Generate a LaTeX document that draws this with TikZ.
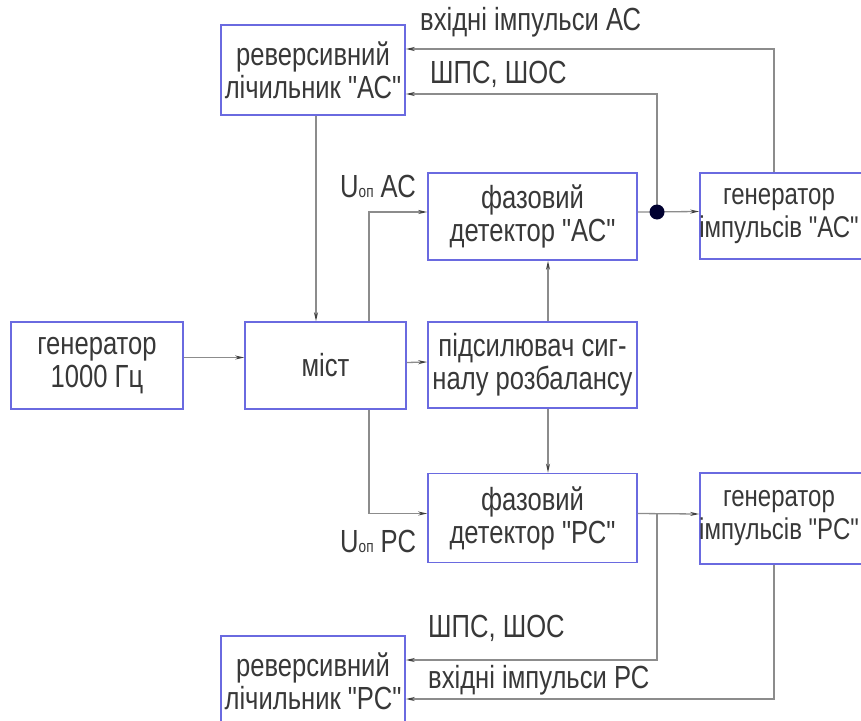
\documentclass[tikz,border=0pt]{standalone}
\usepackage{fontspec}
\setmainfont{Liberation Sans}[FakeStretch=0.8, Ligatures=TeXOff]
\usetikzlibrary{arrows.meta}
\definecolor{boxblue}{HTML}{6A6AE0}
\definecolor{txtgray}{HTML}{383838}
\definecolor{linegray}{HTML}{8C8C8C}
\definecolor{dotblue}{HTML}{000030}
\tikzset{
  box/.style={draw=boxblue, line width=1.6pt, align=center, inner sep=0pt,
    font=\fontsize{32}{33}\selectfont, text=txtgray},
  txt/.style={align=center, inner sep=0pt, font=\fontsize{30}{33}\selectfont, text=txtgray},
  lbl/.style={anchor=west, inner sep=0pt, font=\fontsize{32}{33}\selectfont, text=txtgray},
  arr/.style={draw=linegray, line width=1.3pt,
    -{Stealth[length=9pt,width=4pt,color=black!75]}},
  wire/.style={draw=linegray, line width=1.3pt}
}
\newcommand{\subop}{{\fontsize{17}{17}\selectfont оп}}
\begin{document}
\begin{tikzpicture}[x=1pt,y=-1pt]
\useasboundingbox (0,0) rectangle (861,720);
\clip (0,0) rectangle (861,720);
% boxes
\node[box, minimum width=184pt, minimum height=90pt] (revAC) at (313,70) {реверсивний\\лічильник "АС"};
\node[box, minimum width=172pt, minimum height=87pt] (gen1) at (97,365.5) {генератор\\1000 Гц};
\node[box, minimum width=161pt, minimum height=87pt] (most) at (325.5,365.5) {міст};
\node[box, minimum width=209pt, minimum height=86pt] (amp) at (532.5,365) {підсилювач сиг-\\налу розбалансу};
\node[box, minimum width=209pt, minimum height=87pt] (fazAC) at (532.5,216.5) {фазовий\\детектор "АС"};
\node[box, minimum width=209pt, minimum height=89pt] (fazPC) at (532.5,518) {фазовий\\детектор "РС"};
\node[box, minimum width=180pt, minimum height=86pt] (genAC) at (790,216) {};
\node[txt] at (779,216) {генератор\\імпульсів "АС"};
\node[box, minimum width=180pt, minimum height=91pt] (genPC) at (790,518.5) {};
\node[txt] at (779,518.5) {генератор\\імпульсів "РС"};
\node[box, minimum width=184pt, minimum height=90pt] (revPC) at (313,681) {реверсивний\\лічильник "РС"};
% connectors
\draw[arr] ([xshift=3pt]revAC.south) -- ([xshift=3pt]revAC.south |- most.north);
\draw[arr] ([yshift=8pt]gen1.east) -- ([yshift=8pt]most.west);
\draw[arr] ([yshift=3pt]most.east) -- ([yshift=3pt]amp.west);
\draw[arr] ([xshift=43.5pt]most.north) |- ([yshift=4.5pt]fazAC.west);
\draw[arr] ([xshift=43.5pt]most.south) |- ([yshift=4.5pt]fazPC.west);
\draw[arr] ([xshift=15.5pt]amp.north) -- ([xshift=15.5pt]fazAC.south);
\draw[arr] ([xshift=15.5pt]amp.south) -- ([xshift=15.5pt]fazPC.north);
\coordinate (jA) at (657,212);
\coordinate (jP) at (657,513.5);
\draw[arr] ([yshift=4.5pt]fazAC.east) -- ([yshift=4.5pt]genAC.west);
\draw[arr] (jA) |- ([yshift=-24pt]revAC.east);
\draw[arr] ([xshift=-16pt]genAC.north) |- ([yshift=21pt]revAC.east);
\fill[dotblue] (jA) circle (7.5pt);
\draw[arr] ([yshift=4.5pt]fazPC.east) -- ([yshift=4.5pt]genPC.west);
\draw[arr] (jP) |- ([yshift=21pt]revPC.east);
\draw[arr] ([xshift=-16pt]genPC.south) |- ([yshift=-18pt]revPC.east);
% labels
\node[lbl] at (420,22) {вхідні імпульси АС};
\node[lbl] at (430,74) {ШПС, ШОС};
\node[lbl] at (340,186) {U\subop\ АС};
\node[lbl] at (340,541) {U\subop\ РС};
\node[lbl] at (428,628) {ШПС, ШОС};
\node[lbl] at (428,680) {вхідні імпульси РС};
\end{tikzpicture}
\end{document}
